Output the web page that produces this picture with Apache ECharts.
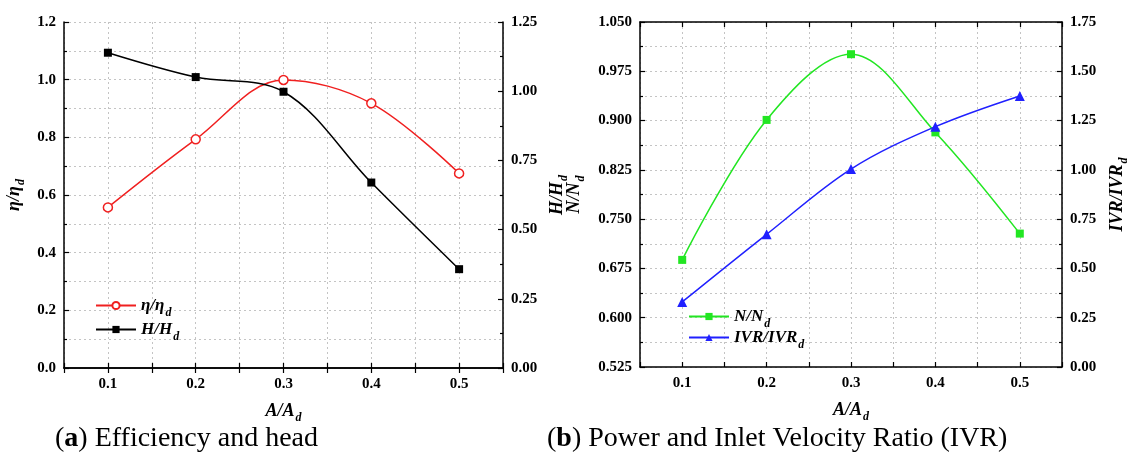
<!DOCTYPE html>
<html>
<head>
<meta charset="utf-8">
<script src="https://cdn.jsdelivr.net/npm/echarts@6/dist/echarts.min.js"></script>
<style>
  html, body { margin: 0; padding: 0; background: #fff; }
  #chart { width: 1131px; height: 460px; }
</style>
</head>
<body>
<div id="chart"></div>
<script>
// Relative opening A/Ad on the shared horizontal axis
const areaRatio = [0.1, 0.2, 0.3, 0.4, 0.5];

// (a) efficiency and head ratios
const effRatio  = [0.557, 0.793, 0.999, 0.918, 0.675];
const headRatio = [1.139, 1.051, 0.998, 0.670, 0.357];

// (b) power and inlet velocity ratios
const powerRatio = [0.688, 0.901, 1.001, 0.882, 0.728];
const ivrRatio   = [0.330, 0.673, 1.004, 1.219, 1.375];

// Axis ranges / tick steps
const xRange = { min: 0.05, max: 0.55, step: 0.05 };
const effAxis = { min: 0, max: 1.2, step: 0.2 };
const headAxis = { min: 0, max: 1.25, step: 0.25 };
const powerAxis = { min: 0.525, max: 1.05, step: 0.075 };
const ivrAxis = { min: 0, max: 1.75, step: 0.25 };

const SERIF = 'Liberation Serif';

const pairs = (ys) => areaRatio.map((x, i) => [x, ys[i]]);
const sub = (main, s) => `{m|${main}}{s|${s}}`;

// italic bold label with a lowered subscript
function richName(size, subSize, drop) {
  return {
    m: { fontFamily: SERIF, fontStyle: 'italic', fontWeight: 'bold', fontSize: size, color: '#000' },
    s: { fontFamily: SERIF, fontStyle: 'italic', fontWeight: 'bold', fontSize: subSize, color: '#000',
         padding: [drop * 2, 0, 0, 1] }
  };
}

const tickLabel = { fontFamily: SERIF, fontWeight: 'bold', fontSize: 15, color: '#000' };
const frameLine = { show: true, lineStyle: { color: '#000', width: 1.5 } };
const gridLine = { show: true, lineStyle: { color: '#c4c4c4', width: 1, type: [2, 3] } };

function xAxes(grid, nameText) {
  return [
    {
      type: 'value', gridIndex: grid, position: 'bottom',
      min: xRange.min, max: xRange.max, interval: xRange.step,
      axisLine: frameLine,
      axisTick: { inside: true, length: 5, lineStyle: { color: '#000', width: 1.2 } },
      axisLabel: Object.assign({}, tickLabel, {
        margin: 9,
        formatter: (v) => Math.abs(v * 10 - Math.round(v * 10)) < 1e-6 && v > 0.06 && v < 0.54 ? v.toFixed(1) : ''
      }),
      splitLine: gridLine,
      name: nameText, nameLocation: 'middle', nameGap: 30,
      nameTextStyle: { rich: richName(18, 12, 7) }
    },
    {
      type: 'value', gridIndex: grid, position: 'top',
      min: xRange.min, max: xRange.max, interval: xRange.step,
      axisLine: frameLine,
      axisTick: { inside: true, length: 5, lineStyle: { color: '#000', width: 1.2 } },
      axisLabel: { show: false },
      splitLine: { show: false }
    }
  ];
}

function yAxis(grid, pos, range, decimals, nameText, gap, withGrid) {
  return {
    type: 'value', gridIndex: grid, position: pos,
    min: range.min, max: range.max, interval: range.step,
    axisLine: frameLine,
    axisTick: { inside: true, length: 5, lineStyle: { color: '#000', width: 1.2 } },
    minorTick: { show: true, splitNumber: 2, length: 3, lineStyle: { color: '#000', width: 1.2 } },
    axisLabel: Object.assign({}, tickLabel, { margin: 8, formatter: (v) => v.toFixed(decimals) }),
    splitLine: withGrid ? gridLine : { show: false },
    minorSplitLine: withGrid ? gridLine : { show: false },
    name: nameText, nameLocation: 'middle', nameGap: gap,
    nameTextStyle: { rich: richName(18, 12, 7) }
  };
}

function legendAt(name, left, top) {
  return {
    data: [name], left: left, top: top, orient: 'vertical',
    itemWidth: 40, itemHeight: 9, padding: 0,
    formatter: (n) => n.replace(/^(.*)\|(.*)$/, '{m|$1}{s|$2}'),
    textStyle: { rich: richName(17, 12, 7) }
  };
}

function caption(left, letter, rest) {
  return {
    left: left, top: 420, text: `{p|(}{b|${letter}}{p|) ${rest}}`,
    textStyle: { rich: {
      p: { fontFamily: SERIF, fontSize: 28, fontWeight: 'normal', color: '#000' },
      b: { fontFamily: SERIF, fontSize: 28, fontWeight: 'bold', color: '#000' } } }
  };
}

const option = {
  animation: false,
  backgroundColor: '#fff',
  grid: [
    { left: 64, right: 628, top: 22, bottom: 92 },
    { left: 640, right: 65, top: 22, bottom: 93 }
  ],
  xAxis: [].concat(xAxes(0, sub('A/A', 'd')), xAxes(1, sub('A/A', 'd'))),
  yAxis: [
    yAxis(0, 'left', effAxis, 1, sub('η/η', 'd'), 37, true),
    yAxis(0, 'right', headAxis, 2, sub('H/H', 'd'), 41, false),
    yAxis(1, 'left', powerAxis, 3, sub('N/N', 'd'), 53, true),
    yAxis(1, 'right', ivrAxis, 2, sub('IVR/IVR', 'd'), 42, false)
  ],
  legend: [
    legendAt('η/η|d', 95, 297),
    legendAt('H/H|d', 95, 321),
    legendAt('N/N|d', 688, 308),
    legendAt('IVR/IVR|d', 688, 329)
  ],
  title: [
    caption(50, 'a', 'Efficiency and head'),
    caption(542, 'b', 'Power and Inlet Velocity Ratio (IVR)')
  ],
  series: [
    {
      name: 'η/η|d', type: 'line', xAxisIndex: 0, yAxisIndex: 0, data: pairs(effRatio),
      smooth: 0.35, symbol: 'circle', symbolSize: 9,
      lineStyle: { color: '#f02020', width: 1.5 },
      itemStyle: { color: '#fff', borderColor: '#f02020', borderWidth: 1.5 }
    },
    {
      name: 'H/H|d', type: 'line', xAxisIndex: 0, yAxisIndex: 1, data: pairs(headRatio),
      smooth: 0.35, symbol: 'rect', symbolSize: 8,
      lineStyle: { color: '#000', width: 1.5 },
      itemStyle: { color: '#000' }
    },
    {
      name: 'N/N|d', type: 'line', xAxisIndex: 2, yAxisIndex: 2, data: pairs(powerRatio),
      smooth: 0.35, symbol: 'rect', symbolSize: 8,
      lineStyle: { color: '#22e622', width: 1.5 },
      itemStyle: { color: '#22e622' }
    },
    {
      name: 'IVR/IVR|d', type: 'line', xAxisIndex: 2, yAxisIndex: 3, data: pairs(ivrRatio),
      smooth: 0.35, symbol: 'triangle', symbolSize: 10,
      lineStyle: { color: '#2020ff', width: 1.5 },
      itemStyle: { color: '#2020ff' }
    }
  ]
};

const chart = echarts.init(document.getElementById('chart'), null, { renderer: 'canvas' });
chart.setOption(option);
</script>
</body>
</html>
